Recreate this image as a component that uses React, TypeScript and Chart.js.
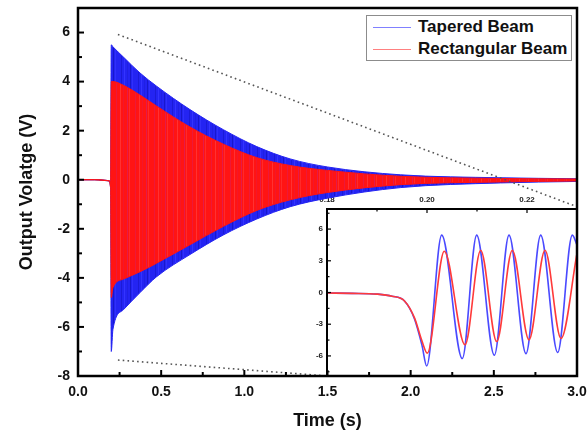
import React, { useEffect, useRef } from "react";
import { Chart, registerables } from "chart.js";

Chart.register(...registerables);

const FONT = "'Liberation Sans', Arial, Helvetica, sans-serif";

// ---- Main plot: envelopes of the decaying output voltage ----
const envTime = [0, 0.1, 0.19, 0.196, 0.2, 0.21, 0.273, 0.373, 0.473, 0.673, 0.874, 1.075, 1.275, 1.5, 1.94, 2.54, 3.0];
const taperedUpper = [0, 0, -0.05, -0.3, 5.5, 5.42, 5.0, 4.35, 3.81, 2.86, 2.04, 1.35, 0.85, 0.52, 0.2, 0.08, 0.04];
const taperedLower = [0, 0, -0.05, -0.3, -7.0, -6.1, -5.3, -4.6, -3.95, -3.05, -2.25, -1.6, -1.1, -0.75, -0.32, -0.13, -0.07];
const rectUpper = [0, 0, -0.05, -0.3, 4.0, 4.0, 3.85, 3.45, 3.0, 2.15, 1.45, 0.9, 0.58, 0.38, 0.14, 0.05, 0.03];
const rectLower = [0, 0, -0.05, -0.3, -4.8, -4.4, -4.05, -3.75, -3.4, -2.65, -1.9, -1.25, -0.82, -0.52, -0.2, -0.09, -0.05];

// callout (zoom) dotted lines
const calloutUpperT = [0.24, 3.0];
const calloutUpperV = [5.92, -1.1];
const calloutLowerT = [0.24, 1.5];
const calloutLowerV = [-7.35, -8.0];

// ---- Inset: zoom on 0.18 – 0.23 s ----
const insetTaperedT = [0.18, 0.185, 0.19, 0.193, 0.1955, 0.1975, 0.199, 0.19994, 0.20294, 0.20706, 0.20994, 0.21346, 0.2164, 0.2198, 0.22274, 0.22614, 0.22906, 0.23];
const insetTaperedV = [-0.05, -0.08, -0.15, -0.35, -0.8, -2.5, -5.0, -6.95, 5.43, -6.25, 5.43, -5.94, 5.43, -5.78, 5.43, -5.68, 5.43, 4.5];
const insetRectT = [0.18, 0.185, 0.19, 0.193, 0.1955, 0.1975, 0.199, 0.20006, 0.20346, 0.2076, 0.21074, 0.21394, 0.21706, 0.2204, 0.2236, 0.2268, 0.23];
const insetRectV = [-0.05, -0.08, -0.15, -0.35, -0.8, -2.4, -4.6, -5.74, 3.9, -4.95, 4.0, -4.64, 4.0, -4.48, 4.0, -4.35, 3.7];

const seriesNames = ["Tapered Beam", "Rectangular Beam"];

const BLUE = "#2424f2";
const RED = "#ff1414";
const BLUE_STRIPES = ["#2424f2", "#2424f2", "#1b1bd8", "#2424f2", "#2424f2", "#3434ff", "#2424f2", "#2424f2", "#2020e4", "#2424f2", "#2424f2", "#1818cc", "#2424f2", "#3030fa", "#2424f2", "#2424f2", "#2424f2"];
const RED_STRIPES = ["#ff1414", "#ff1414", "#ee1838", "#ff1414", "#ff1414", "#ff1414", "#ff3232", "#ff1414", "#ff1414", "#f41628", "#ff1414", "#ff1414", "#ff1414", "#e61a48", "#ff1414", "#ff2a2a", "#ff1414", "#ff1414", "#ff1414"];

const pts = (t: number[], v: number[]) => t.map((x, i) => ({ x, y: v[i] }));

function stripePattern(colors: string[]): CanvasPattern | string {
  const c = document.createElement("canvas");
  c.width = colors.length;
  c.height = 4;
  const g = c.getContext("2d");
  if (!g) return colors[0];
  colors.forEach((col, i) => {
    g.fillStyle = col;
    g.fillRect(i, 0, 1, 4);
  });
  const p = g.createPattern(c, "repeat");
  return p || colors[0];
}

function framePlugin(id: string, o: any) {
  return {
    id,
    beforeDraw(chart: any) {
      if (!o.white) return;
      const { ctx, chartArea: a } = chart;
      ctx.save();
      ctx.fillStyle = "#fff";
      ctx.fillRect(a.left, a.top, a.width, a.height);
      ctx.restore();
    },
    afterDraw(chart: any) {
      const { ctx, chartArea: a } = chart;
      const xs = chart.scales.x;
      const ys = chart.scales.y;
      ctx.save();
      ctx.strokeStyle = "#000";
      ctx.lineWidth = o.tickWidth;
      xs.ticks.forEach((t: any) => {
        const px = xs.getPixelForValue(t.value);
        const len = o.xMajor(t.value) ? o.major : o.minor;
        ctx.beginPath();
        if (o.xSide === "bottom") {
          ctx.moveTo(px, a.bottom);
          ctx.lineTo(px, a.bottom - len);
        } else {
          ctx.moveTo(px, a.top);
          ctx.lineTo(px, a.top + len);
        }
        ctx.stroke();
      });
      ys.ticks.forEach((t: any) => {
        const py = ys.getPixelForValue(t.value);
        const len = o.yMajor(t.value) ? o.major : o.minor;
        ctx.beginPath();
        ctx.moveTo(a.left, py);
        ctx.lineTo(a.left + len, py);
        ctx.stroke();
      });
      ctx.lineWidth = o.frameWidth;
      if (o.fullFrame) {
        ctx.strokeRect(a.left, a.top, a.width, a.height);
      } else {
        ctx.beginPath();
        ctx.moveTo(a.left, a.bottom);
        ctx.lineTo(a.left, a.top);
        ctx.lineTo(a.right, a.top);
        ctx.stroke();
      }
      ctx.restore();
    },
  };
}

const isMult = (v: number, m: number) => Math.abs(v / m - Math.round(v / m)) < 1e-6;

export default function App() {
  const mainRef = useRef<HTMLCanvasElement>(null);
  const insetRef = useRef<HTMLCanvasElement>(null);

  useEffect(() => {
    const bluePat = stripePattern(BLUE_STRIPES);
    const redPat = stripePattern(RED_STRIPES);
    const band = (data: any, color: string, bg: any, fill: any, order: number) => ({
      data,
      borderColor: color,
      backgroundColor: bg,
      borderWidth: 1,
      pointRadius: 0,
      fill,
      order,
      cubicInterpolationMode: "monotone" as const,
    });
    const dotted = (data: any) => ({
      data,
      borderColor: "#555",
      borderWidth: 1.6,
      borderDash: [1.6, 3.2],
      pointRadius: 0,
      fill: false,
      order: 0,
    });

    const main = new Chart(mainRef.current!, {
      type: "line",
      data: {
        datasets: [
          band(pts(envTime, taperedUpper), BLUE, bluePat, "+1", 4),
          band(pts(envTime, taperedLower), BLUE, BLUE, false, 3),
          band(pts(envTime, rectUpper), RED, redPat, "+1", 2),
          band(pts(envTime, rectLower), RED, RED, false, 1),
          dotted(pts(calloutUpperT, calloutUpperV)),
          dotted(pts(calloutLowerT, calloutLowerV)),
        ] as any,
      },
      options: {
        animation: false,
        responsive: false,
        events: [],
        layout: { padding: { top: 8, right: 10, left: 0, bottom: 0 } },
        plugins: { legend: { display: false }, tooltip: { enabled: false } },
        scales: {
          x: {
            type: "linear",
            min: 0,
            max: 3,
            grid: { display: false, drawTicks: false },
            border: { display: false },
            ticks: {
              stepSize: 0.25,
              autoSkip: false,
              maxRotation: 0,
              padding: 8,
              color: "#111",
              font: { family: FONT, size: 14, weight: "bold" },
              callback: (v: any) => (isMult(Number(v), 0.5) ? Number(v).toFixed(1) : ""),
            },
            title: {
              display: true,
              text: "Time (s)",
              color: "#111",
              font: { family: FONT, size: 18, weight: "bold" },
              padding: { top: 0, bottom: 2 },
            },
            afterFit: (s: any) => {
              s.height = 58;
              s.paddingLeft = 0;
              s.paddingRight = 0;
            },
          },
          y: {
            type: "linear",
            min: -8,
            max: 7,
            grid: { display: false, drawTicks: false },
            border: { display: false },
            ticks: {
              stepSize: 1,
              autoSkip: false,
              padding: 8,
              color: "#111",
              font: { family: FONT, size: 14, weight: "bold" },
              callback: (v: any) => (isMult(Number(v), 2) ? String(Number(v)) : ""),
            },
            title: {
              display: true,
              text: "Output Volatge (V)",
              color: "#111",
              font: { family: FONT, size: 18, weight: "bold" },
              padding: { top: 16, bottom: 0 },
            },
            afterFit: (s: any) => {
              s.width = 78;
              s.paddingTop = 0;
              s.paddingBottom = 0;
            },
          },
        },
      } as any,
      plugins: [
        framePlugin("mainFrame", {
          white: false,
          tickWidth: 2,
          major: 6,
          minor: 4,
          xSide: "bottom",
          xMajor: (v: number) => isMult(v, 0.5),
          yMajor: (v: number) => isMult(v, 2),
          frameWidth: 2.5,
          fullFrame: true,
        }),
      ],
    });

    const line = (data: any, color: string, order: number) => ({
      data,
      borderColor: color,
      borderWidth: 1.6,
      pointRadius: 0,
      fill: false,
      order,
      cubicInterpolationMode: "monotone" as const,
    });

    const inset = new Chart(insetRef.current!, {
      type: "line",
      data: {
        datasets: [
          line(pts(insetTaperedT, insetTaperedV), "#4a4aff", 2),
          line(pts(insetRectT, insetRectV), "#ff3a3a", 1),
        ] as any,
      },
      options: {
        animation: false,
        responsive: false,
        events: [],
        layout: { padding: { top: 0, right: 10, left: 0, bottom: 10 } },
        plugins: { legend: { display: false }, tooltip: { enabled: false } },
        scales: {
          x: {
            type: "linear",
            position: "top",
            min: 0.18,
            max: 0.23,
            grid: { display: false, drawTicks: false },
            border: { display: false },
            ticks: {
              stepSize: 0.01,
              autoSkip: false,
              maxRotation: 0,
              padding: 4,
              color: "#222",
              font: { family: FONT, size: 8, weight: "bold" },
              callback: (v: any) => (isMult(Number(v), 0.02) ? Number(v).toFixed(2) : ""),
            },
            afterFit: (s: any) => {
              s.height = 19;
              s.paddingLeft = 0;
              s.paddingRight = 0;
            },
          },
          y: {
            type: "linear",
            min: -7.9,
            max: 7.9,
            grid: { display: false, drawTicks: false },
            border: { display: false },
            ticks: {
              stepSize: 1.5,
              includeBounds: false,
              autoSkip: false,
              padding: 4,
              color: "#222",
              font: { family: FONT, size: 8, weight: "bold" },
              callback: (v: any) => (isMult(Number(v), 3) ? String(Math.round(Number(v))) : ""),
            },
            afterFit: (s: any) => {
              s.width = 37;
              s.paddingTop = 0;
              s.paddingBottom = 0;
            },
          },
        },
      } as any,
      plugins: [
        framePlugin("insetFrame", {
          white: true,
          tickWidth: 1.2,
          major: 4,
          minor: 2.5,
          xSide: "top",
          xMajor: (v: number) => isMult(v, 0.02),
          yMajor: (v: number) => isMult(v, 3),
          frameWidth: 2,
          fullFrame: false,
        }),
      ],
    });

    return () => {
      main.destroy();
      inset.destroy();
    };
  }, []);

  const legendRow = (color: string, label: string, top: number) => (
    <div style={{ position: "absolute", left: 0, top, height: 20, width: "100%" }}>
      <div
        style={{
          position: "absolute",
          left: 6,
          top: 10,
          width: 38,
          height: 0,
          borderTop: `1.5px solid ${color}`,
        }}
      />
      <div
        style={{
          position: "absolute",
          left: 51,
          top: 0,
          fontFamily: FONT,
          fontWeight: "bold",
          fontSize: 17,
          lineHeight: "20px",
          color: "#111",
          whiteSpace: "nowrap",
        }}
      >
        {label}
      </div>
    </div>
  );

  return (
    <div style={{ position: "absolute", left: 0, top: 0, width: 587, height: 434, background: "#fff" }}>
      <canvas
        ref={insetRef}
        width={297}
        height={196}
        style={{ position: "absolute", left: 290, top: 190, width: 297, height: 196 }}
      />
      <canvas
        ref={mainRef}
        width={587}
        height={434}
        style={{ position: "absolute", left: 0, top: 0, width: 587, height: 434 }}
      />
      <div
        style={{
          position: "absolute",
          left: 366,
          top: 15,
          width: 206,
          height: 46,
          boxSizing: "border-box",
          border: "1px solid #8c8c8c",
          background: "#fff",
        }}
      >
        {legendRow("#8080ff", seriesNames[0], 1)}
        {legendRow("#ff8080", seriesNames[1], 23)}
      </div>
    </div>
  );
}
